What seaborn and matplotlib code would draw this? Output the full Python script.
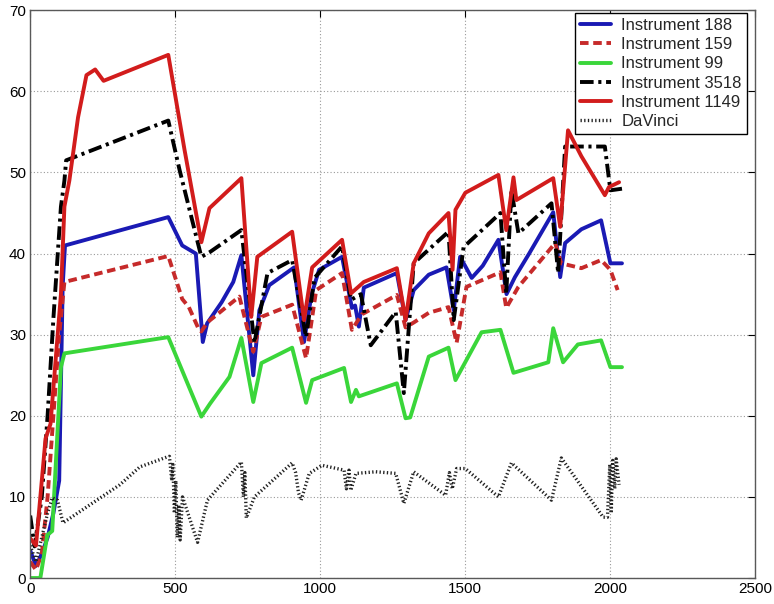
import seaborn as sns
import pandas as pd
import matplotlib.pyplot as plt

# Values
x188 = [0, 20, 40, 60, 80, 100, 112, 120, 476, 524, 571, 595, 610, 660, 700, 728, 769, 790, 824, 910,
        944, 970, 996, 1075, 1109, 1120, 1133, 1150, 1264, 1294, 1322, 1374, 1435, 1460, 1482, 1522, 1560,
        1614, 1642, 1671, 1720, 1803, 1827, 1844, 1900, 1968, 2000, 2040]
y188 = [3.4, 1.5, 3, 5, 8, 12, 36, 41, 44.5, 41, 40, 29.1, 31.4, 34, 36.5, 39.8, 25, 33, 36.1, 38.3,
        29.1, 35, 38, 39.6, 33.3, 33.6, 31, 35.8, 37.6, 31.8, 35.5, 37.4, 38.3, 33, 39.6, 37, 38.5,
        41.7, 35, 37.1, 40, 45.1, 37.1, 41.3, 43, 44.1, 38.8, 38.8]

x159 = [0, 20, 40, 60, 80, 100, 118, 476, 524, 547, 582, 590, 610, 721, 769, 797, 903, 951, 986, 1075,
        1109, 1143, 1264, 1294, 1322, 1374, 1442, 1470, 1504, 1621, 1641, 1683, 1810, 1830, 1900, 1968,
        2000, 2025]
y159 = [2, 1, 3, 10, 20, 30, 36.5, 39.7, 34.4, 33.4, 30.6, 30.4, 31.5, 34.7, 27.9, 32.2, 33.7, 27.1, 35.5, 37.6,
        30.6, 32.5, 34.9, 30.9, 31.5, 32.7, 33.4, 29, 35.9, 37.7, 33.3, 35.9, 41.3, 38.8, 38.2, 39.2,
        38, 35.5]

x99 = [0, 35, 59, 76, 106, 118, 476, 590, 620, 687, 728, 769, 797, 903, 951, 972, 1082, 1106, 1123, 1133,
       1264, 1294, 1310, 1374, 1442, 1466, 1556, 1621, 1666, 1786, 1803, 1837, 1888, 1968, 2000, 2040]
y99 = [0, 0, 5.3, 5.8, 26, 27.7, 29.7, 19.9, 21.5, 24.8, 29.6, 21.7, 26.5, 28.4, 21.6, 24.4, 25.9, 21.7, 23.2, 22.4,
       24, 19.7, 19.8, 27.3, 28.4, 24.4, 30.3, 30.6, 25.3, 26.6, 30.8, 26.6, 28.8, 29.3, 26, 26]

x3518 = [0, 15, 40, 60, 80, 106, 118, 124, 476, 515, 590, 620, 728, 773, 818, 903, 951, 980, 1075, 1106,
         1140, 1174, 1260, 1288, 1322, 1374, 1442, 1460, 1494, 1621, 1641, 1659, 1683, 1797, 1820, 1844,
         1981, 2000, 2040]
y3518 = [7.7, 3.9, 10, 20, 32, 45.8, 49, 51.5, 56.4, 50.3, 39.6, 40.2, 42.9, 29, 37.6, 39.2, 29.7, 37, 40.9, 34.3,
         35, 28.7, 32.8, 22.8, 38.8, 40.5, 42.7, 31.8, 40.8, 45, 35, 47.8, 42.5, 46.2, 37.6, 53.2,
         53.2, 47.8, 48]

x1149 = [0, 20, 53, 70, 106, 118, 135, 165, 194, 224, 253, 476, 532, 590, 618, 728, 762, 783, 903, 944,
         972, 1075, 1106, 1150, 1264, 1294, 1322, 1374, 1442, 1456, 1466, 1500, 1614, 1641, 1666, 1676,
         1803, 1827, 1854, 1900, 1981, 1995, 2030]
y1149 = [4.9, 4, 17.2, 19, 35, 45.8, 49, 56.8, 62, 62.7, 61.3, 64.5, 52.8, 41.4, 45.6, 49.3, 32.2, 39.6, 42.7, 31.8,
         38.3, 41.7, 35.1, 36.5, 38.2, 31.8, 38.8, 42.5, 45, 38, 45.4, 47.5, 49.7, 42.9, 49.4, 46.6,
         49.3, 43.3, 55.2, 52, 47.2, 48.2, 48.8]

xdv = [0, 20, 40, 60, 76, 94, 113, 309, 378, 470, 480, 488, 492, 497, 502, 507, 512, 517, 525, 577, 611,
       728, 735, 740, 745, 773, 903, 915, 925, 934, 962, 1006, 1082, 1090, 1099, 1105, 1123, 1191, 1260,
       1288, 1322, 1432, 1445, 1455, 1470, 1500, 1614, 1659, 1797, 1831, 1975, 1990, 1998, 2003, 2008,
       2015, 2020, 2030]
ydv = [4, 2, 5, 8, 9.9, 9.6, 6.8, 11.5, 13.7, 14.9, 15, 12, 14, 8, 12, 5, 9, 4.7, 10, 4.4, 9.6,
       14.3, 10, 13, 7.4, 10, 14.2, 13, 10.5, 9.6, 12.9, 13.9, 13.3, 11, 13.3, 10.8, 12.9, 13.1, 12.9,
       9.2, 13.1, 10.2, 13, 11, 13.5, 13.5, 10, 14.2, 9.6, 14.8, 7.5, 7.5, 14, 8, 14.5,
       11, 14.7, 11.5]

series = [
    ("Instrument 188", x188, y188, "#1a1ab4", "-"),
    ("Instrument 159", x159, y159, "#c62a2a", (0, (2.2, 1.2))),
    ("Instrument 99", x99, y99, "#3ad63a", "-"),
    ("Instrument 3518", x3518, y3518, "black", (0, (3.5, 1.2, 0.8, 1.2))),
    ("Instrument 1149", x1149, y1149, "#d21c1c", "-"),
    ("DaVinci", xdv, ydv, "#222222", (0, (0.4, 0.7))),
]

sns.set_style("white")
plt.rcParams["font.family"] = ["Liberation Sans", "DejaVu Sans"]

fig = plt.figure(figsize=(7.74, 6.04), dpi=100)
ax = fig.add_axes([0.039, 0.043, 0.937, 0.94])

for name, xs, ys, col, ls in series:
    df = pd.DataFrame({"x": xs, "y": ys})
    lw = 2.4 if name == "DaVinci" else 2.8
    sns.lineplot(data=df, x="x", y="y", ax=ax, color=col, linestyle=ls, linewidth=lw,
                 label=name, sort=False, estimator=None)

ax.set_xlim(0, 2500)
ax.set_ylim(0, 70)
ax.set_xticks(range(0, 2501, 500))
ax.set_yticks(range(0, 71, 10))
ax.set_xlabel("")
ax.set_ylabel("")
ax.grid(True, linestyle=(0, (1, 2)), color="0.6", linewidth=0.8)
ax.tick_params(direction="in", top=True, right=True, length=5, labelsize=11, colors="black", pad=3)
for s in ax.spines.values():
    s.set_color("0.35")
    s.set_linewidth(1.0)

leg = ax.legend(loc="upper right", bbox_to_anchor=(0.988, 0.995), borderaxespad=0, fontsize=12,
                handlelength=1.9, handletextpad=0.6, labelspacing=0.25, borderpad=0.3,
                frameon=True, fancybox=False, framealpha=1)
leg.get_frame().set_edgecolor("black")
leg.get_frame().set_linewidth(1.0)

plt.savefig("out.png", dpi=100)
